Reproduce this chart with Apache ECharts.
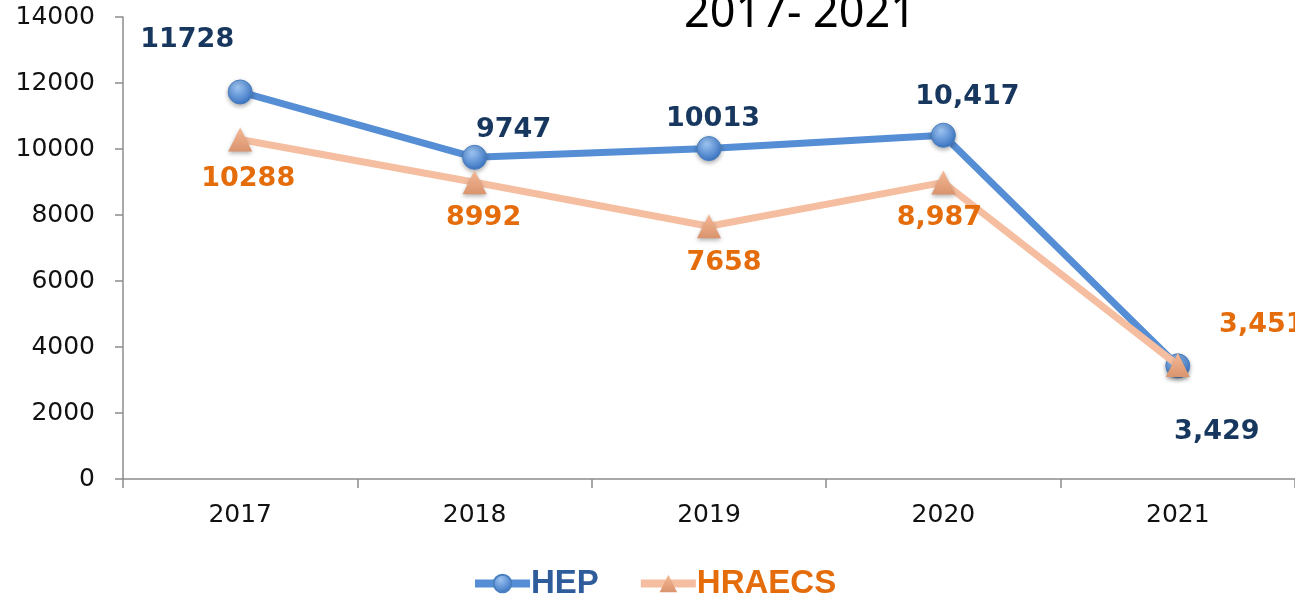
<!DOCTYPE html>
<html>
<head>
<meta charset="utf-8">
<script src="https://cdn.jsdelivr.net/npm/echarts@6/dist/echarts.min.js"></script>
<style>
  html, body { margin: 0; padding: 0; background: #fff; }
  #chart { width: 1295px; height: 599px; }
</style>
</head>
<body>
<div id="chart"></div>
<script>
const years = ['2017', '2018', '2019', '2020', '2021']
const hepValues = [11728, 9747, 10013, 10417, 3429]
const hepLabels = ['11728', '9747', '10013', '10,417', '3,429']
const hraecsValues = [10288, 8992, 7658, 8987, 3451]
const hraecsLabels = ['10288', '8992', '7658', '8,987', '3,451']

// where each value label sits relative to its point
const hepOffsets = [[-53, -52], [39, -27], [4, -30], [24, -38], [39, 66]]
const hraecsOffsets = [[8, 39], [9, 36], [15, 37], [-4, 36], [84, -40]]

const chart = echarts.init(document.getElementById('chart'))

const labelFont = {
  fontFamily: 'DejaVu Sans',
  fontWeight: 'bold',
  fontSize: 27
}

const makeData = (values, labels, offsets, color) =>
  values.map((v, i) => ({
    value: v,
    label: {
      show: true,
      position: 'inside',
      offset: offsets[i],
      formatter: labels[i],
      color: color,
      ...labelFont
    }
  }))

const option = {
  backgroundColor: '#ffffff',
  title: {
    text: '2017- 2021',
    left: 795,
    top: -13,
    textAlign: 'center',
    textStyle: {
      fontFamily: 'Noto Sans',
      fontWeight: 'normal',
      fontSize: 45,
      color: '#000'
    }
  },
  legend: {
    bottom: -6,
    left: 466,
    itemWidth: 55,
    itemHeight: 22,
    itemGap: 38,
    data: [
      { name: 'HEP', textStyle: { color: '#2f5d9b' } },
      { name: 'HRAECS', textStyle: { color: '#e46c0a' } }
    ],
    lineStyle: { width: 8 },
    textStyle: {
      fontFamily: 'Liberation Sans',
      fontWeight: 'bold',
      fontSize: 33,
      padding: [0, 0, 0, -4]
    }
  },
  grid: {
    left: 123,
    right: -8,
    top: 17,
    bottom: 120
  },
  xAxis: {
    type: 'category',
    data: years,
    boundaryGap: true,
    axisLine: { lineStyle: { color: '#8c8c8c', width: 1.5 } },
    axisTick: { show: true, length: 9, lineStyle: { color: '#8c8c8c', width: 1.5 } },
    axisLabel: {
      color: '#111',
      fontFamily: 'DejaVu Sans',
      fontSize: 25,
      margin: 24
    }
  },
  yAxis: {
    type: 'value',
    min: 0,
    max: 14000,
    interval: 2000,
    axisLine: { show: true, lineStyle: { color: '#8c8c8c', width: 1.5 } },
    axisTick: { show: true, length: 8, lineStyle: { color: '#8c8c8c', width: 1.5 } },
    splitLine: { show: false },
    axisLabel: {
      formatter: (v) => String(v),
      color: '#111',
      fontFamily: 'DejaVu Sans',
      fontSize: 25,
      margin: 28
    }
  },
  series: [
    {
      name: 'HEP',
      type: 'line',
      symbol: 'circle',
      symbolSize: 24,
      z: 3,
      lineStyle: { width: 7, color: '#558ed5' },
      itemStyle: {
        color: new echarts.graphic.RadialGradient(0.4, 0.3, 0.7, [
          { offset: 0, color: '#9cc3f0' },
          { offset: 1, color: '#3a75c4' }
        ]),
        borderColor: '#4a7fc0',
        borderWidth: 1,
        shadowBlur: 4,
        shadowColor: 'rgba(0,0,0,0.3)',
        shadowOffsetY: 2
      },
      data: makeData(hepValues, hepLabels, hepOffsets, '#17375e')
    },
    {
      name: 'HRAECS',
      type: 'line',
      symbol: 'triangle',
      symbolSize: 24,
      z: 4,
      lineStyle: { width: 7, color: '#f6bea0' },
      itemStyle: {
        color: new echarts.graphic.LinearGradient(0, 0, 0, 1, [
          { offset: 0, color: '#f5b896' },
          { offset: 1, color: '#d9946d' }
        ]),
        shadowBlur: 4,
        shadowColor: 'rgba(0,0,0,0.3)',
        shadowOffsetY: 2
      },
      data: makeData(hraecsValues, hraecsLabels, hraecsOffsets, '#e46c0a')
    }
  ]
}

chart.setOption(option)
</script>
</body>
</html>
